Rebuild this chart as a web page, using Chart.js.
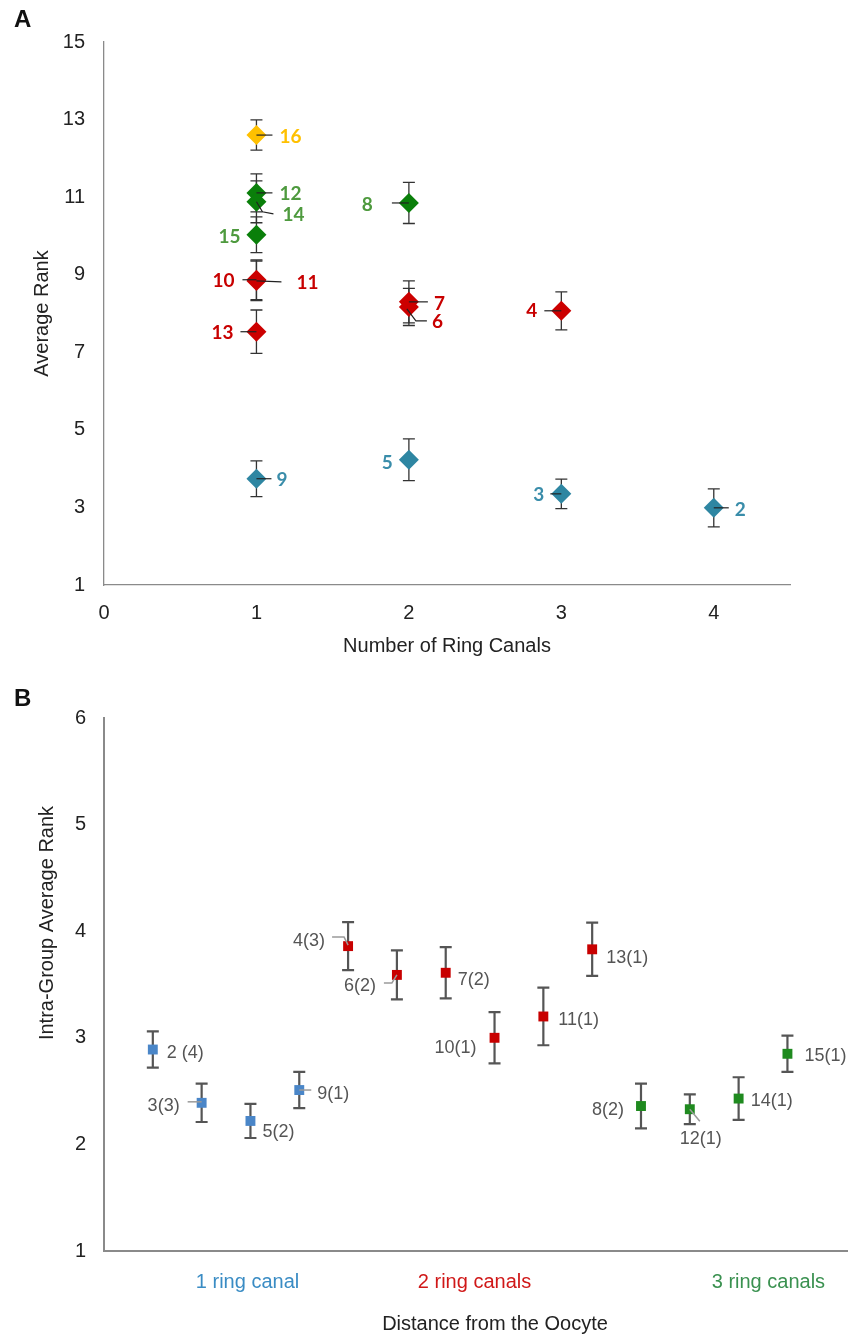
<!DOCTYPE html>
<html>
<head>
<meta charset="utf-8">
<script src="https://cdn.jsdelivr.net/npm/chart.js@4.4.1/dist/chart.umd.min.js"></script>
<style>
  html, body { margin: 0; padding: 0; background: #fff; }
  body { width: 854px; height: 1336px; position: relative; overflow: hidden; font-family: "Liberation Sans", Arial, sans-serif; }
  .panel { position: absolute; left: 0; width: 854px; }
  .letter { position: absolute; left: 14px; font-weight: bold; font-size: 24px; line-height: 24px; color: #111; }
</style>
</head>
<body>
<div class="panel" style="top:0;height:670px"><canvas id="chartA"></canvas></div>
<div class="panel" style="top:670px;height:666px"><canvas id="chartB"></canvas></div>
<div class="letter" style="top:7px">A</div>
<div class="letter" style="top:686px">B</div>
<script>
// ---- panel A: average rank vs number of ring canals
const idsA = ['16', '12', '14', '15', '8', '10', '11', '13', '7', '6', '4', '9', '5', '3', '2'];
const ringCanalsA = [1, 1, 1, 1, 2, 1, 1, 1, 2, 2, 3, 1, 2, 3, 4];
const avgRankA = [12.60, 11.11, 10.88, 10.03, 10.85, 8.87, 8.84, 7.53, 8.30, 8.17, 8.07, 3.74, 4.23, 3.35, 2.99];
const errA = [0.39, 0.49, 0.54, 0.46, 0.53, 0.51, 0.51, 0.56, 0.54, 0.48, 0.49, 0.46, 0.54, 0.38, 0.49];
const groupA = ['yellow', 'green', 'green', 'green', 'green', 'red', 'red', 'red', 'red', 'red', 'red', 'teal', 'teal', 'teal', 'teal'];
const xTicksA = [0, 1, 2, 3, 4];

// ---- panel B: intra-group average rank by distance from the oocyte
const idsB = ['2 (4)', '3(3)', '5(2)', '9(1)', '4(3)', '6(2)', '7(2)', '10(1)', '11(1)', '13(1)', '8(2)', '12(1)', '14(1)', '15(1)'];
const orderB = [1, 2, 3, 4, 5, 6, 7, 8, 9, 10, 11, 12, 13, 14];
const intraRankB = [2.89, 2.39, 2.22, 2.51, 3.86, 3.59, 3.61, 3.00, 3.20, 3.83, 2.36, 2.33, 2.43, 2.85];
const errB = [0.17, 0.18, 0.16, 0.17, 0.225, 0.23, 0.24, 0.24, 0.27, 0.25, 0.21, 0.14, 0.20, 0.17];
const groupB = [1, 1, 1, 1, 2, 2, 2, 2, 2, 2, 3, 3, 3, 3];
const groupNamesB = ['1 ring canal', '2 ring canals', '3 ring canals'];
const groupTickPosB = [2.94, 7.59, 13.61];

Chart.defaults.font.family = '"Liberation Sans", Arial, sans-serif';
Chart.defaults.animation = false;

const colorsA = {
  yellow: { marker: '#FFC000', label: '#FFC000' },
  green: { marker: '#0A7F0A', label: '#4E9A3E' },
  red: { marker: '#CC0000', label: '#C80000' },
  teal: { marker: '#2E86A2', label: '#3A8DAA' }
};
const colorsB = {
  1: { marker: '#4A86C8', tick: '#3A8CC4' },
  2: { marker: '#C80000', tick: '#D01818' },
  3: { marker: '#1F8A1F', tick: '#3A9150' }
};

// label placement relative to the marker (pixels)
const labelPosA = {
  '16': { dx: 23, dy: 2, align: 'left', leader: [[0, 0], [16, 0]] },
  '12': { dx: 23, dy: 1, align: 'left', leader: [[0, 0], [16, 0]] },
  '14': { dx: 26, dy: 13, align: 'left', leader: [[0, 0], [6, 10], [17, 12]] },
  '15': { dx: -16, dy: 2, align: 'right' },
  '8': { dx: -36, dy: 2, align: 'right', leader: [[-17, 0], [0, 0]] },
  '10': { dx: -22, dy: 1, align: 'right', leader: [[-14, 0], [0, 0]] },
  '11': { dx: 40, dy: 2, align: 'left', leader: [[0, 0], [25, 1]] },
  '13': { dx: -23, dy: 1, align: 'right', leader: [[-16, 0], [0, 0]] },
  '7': { dx: 25, dy: 2, align: 'left', leader: [[0, 0], [19, 0]] },
  '6': { dx: 23, dy: 15, align: 'left', leader: [[-2, 2], [7, 14], [18, 14]] },
  '4': { dx: -24, dy: 0, align: 'right', leader: [[-17, 0], [0, 0]] },
  '9': { dx: 20, dy: 1, align: 'left', leader: [[0, 0], [15, 0]] },
  '5': { dx: -16, dy: 3, align: 'right' },
  '3': { dx: -17, dy: 1, align: 'right', leader: [[-11, 0], [0, 0]] },
  '2': { dx: 21, dy: 2, align: 'left', leader: [[0, 0], [15, 0]] }
};
const labelPosB = {
  '2 (4)': { dx: 14, dy: 4, align: 'left' },
  '3(3)': { dx: -22, dy: 3, align: 'right', leader: [[-14, -1], [0, -1]] },
  '5(2)': { dx: 12, dy: 11, align: 'left' },
  '9(1)': { dx: 18, dy: 4, align: 'left', leader: [[0, 0], [12, 0]] },
  '4(3)': { dx: -23, dy: -5, align: 'right', leader: [[-16, -9], [-4, -9], [0, -1]] },
  '6(2)': { dx: -21, dy: 11, align: 'right', leader: [[-13, 8], [-5, 8], [0, 0]] },
  '7(2)': { dx: 12, dy: 7, align: 'left' },
  '10(1)': { dx: -18, dy: 10, align: 'right' },
  '11(1)': { dx: 15, dy: 4, align: 'left' },
  '13(1)': { dx: 14, dy: 9, align: 'left' },
  '8(2)': { dx: -17, dy: 4, align: 'right' },
  '12(1)': { dx: -10, dy: 30, align: 'left', leader: [[0, 0], [10, 12]] },
  '14(1)': { dx: 12, dy: 2, align: 'left' },
  '15(1)': { dx: 17, dy: 2, align: 'left' }
};

// vertical error bars with caps, drawn under the markers
function errorBarPlugin(color, width, cap) {
  return {
    id: 'errorBars',
    beforeDatasetsDraw(chart) {
      const ctx = chart.ctx;
      const yScale = chart.scales.y;
      ctx.save();
      ctx.strokeStyle = color;
      ctx.lineWidth = width;
      chart.data.datasets.forEach((ds, i) => {
        chart.getDatasetMeta(i).data.forEach((pt, j) => {
          const v = ds.data[j].y, e = ds.errors[j];
          const top = yScale.getPixelForValue(v + e);
          const bot = yScale.getPixelForValue(v - e);
          ctx.beginPath();
          ctx.moveTo(pt.x, top); ctx.lineTo(pt.x, bot);
          ctx.moveTo(pt.x - cap, top); ctx.lineTo(pt.x + cap, top);
          ctx.moveTo(pt.x - cap, bot); ctx.lineTo(pt.x + cap, bot);
          ctx.stroke();
        });
      });
      ctx.restore();
    }
  };
}

// point name labels with small leader lines
function labelPlugin(positions, font, leaderColor, leaderWidth) {
  return {
    id: 'pointNames',
    afterDatasetsDraw(chart) {
      const ctx = chart.ctx;
      ctx.save();
      ctx.font = font;
      ctx.textBaseline = 'middle';
      chart.data.datasets.forEach((ds, i) => {
        chart.getDatasetMeta(i).data.forEach((pt, j) => {
          const name = ds.names[j];
          const p = positions[name];
          if (p.leader) {
            ctx.strokeStyle = leaderColor;
            ctx.lineWidth = leaderWidth;
            ctx.beginPath();
            p.leader.forEach((q, k) => {
              if (k === 0) ctx.moveTo(pt.x + q[0], pt.y + q[1]);
              else ctx.lineTo(pt.x + q[0], pt.y + q[1]);
            });
            ctx.stroke();
          }
          ctx.fillStyle = ds.labelColor;
          ctx.textAlign = p.align;
          ctx.fillText(name, pt.x + p.dx, pt.y + p.dy);
        });
      });
      ctx.restore();
    }
  };
}

// ---------- chart A
const datasetsA = Object.keys(colorsA).map(g => {
  const idx = groupA.map((v, i) => v === g ? i : -1).filter(i => i >= 0);
  return {
    data: idx.map(i => ({ x: ringCanalsA[i], y: avgRankA[i] })),
    errors: idx.map(i => errA[i]),
    names: idx.map(i => idsA[i]),
    labelColor: colorsA[g].label,
    showLine: false,
    pointStyle: 'rectRot',
    pointRadius: 10,
    pointBorderWidth: 0,
    pointBackgroundColor: colorsA[g].marker,
    pointBorderColor: colorsA[g].marker
  };
});

new Chart(document.getElementById('chartA'), {
  type: 'scatter',
  data: { datasets: datasetsA },
  options: {
    responsive: true,
    maintainAspectRatio: false,
    layout: { padding: { top: 42, right: 64, bottom: 0, left: 0 } },
    scales: {
      x: {
        type: 'linear',
        min: 0,
        max: 4.5,
        afterBuildTicks: s => { s.ticks = xTicksA.map(v => ({ value: v })); },
        afterFit: s => { s.height = 85; },
        grid: { display: false, drawTicks: false },
        border: { display: true, color: '#8a8a8a', width: 1.3 },
        ticks: { font: { size: 20 }, color: '#222', padding: 16, maxRotation: 0 },
        title: { display: true, text: 'Number of Ring Canals', font: { size: 20 }, color: '#222', padding: { top: 0, bottom: 12 } }
      },
      y: {
        min: 1,
        max: 15,
        afterFit: s => { s.width = 104; },
        grid: { display: false, drawTicks: false },
        border: { display: true, color: '#8a8a8a', width: 1.3 },
        ticks: { stepSize: 2, font: { size: 20 }, color: '#222', padding: 19 },
        title: { display: true, text: 'Average Rank', font: { size: 20 }, color: '#222', padding: { top: 30, bottom: 0 } }
      }
    },
    plugins: { legend: { display: false }, tooltip: { enabled: false } }
  },
  plugins: [errorBarPlugin('#333', 1.3, 6), labelPlugin(labelPosA, 'bold 19px Lato', '#222', 1.2)]
});

// ---------- chart B
const datasetsB = [1, 2, 3].map(g => {
  const idx = groupB.map((v, i) => v === g ? i : -1).filter(i => i >= 0);
  return {
    data: idx.map(i => ({ x: orderB[i], y: intraRankB[i] })),
    errors: idx.map(i => errB[i]),
    names: idx.map(i => idsB[i]),
    labelColor: '#555',
    showLine: false,
    pointStyle: 'rect',
    pointRadius: 7,
    pointBorderWidth: 0,
    pointBackgroundColor: colorsB[g].marker,
    pointBorderColor: colorsB[g].marker
  };
});

const titlesB = {
  id: 'titlesB',
  afterDraw(chart) {
    const ctx = chart.ctx;
    ctx.save();
    ctx.font = '20px "Liberation Sans", Arial, sans-serif';
    ctx.fillStyle = '#222';
    ctx.textAlign = 'center';
    ctx.textBaseline = 'middle';
    ctx.fillText('Distance from the Oocyte', 495, 654);
    ctx.translate(47, 253);
    ctx.rotate(-Math.PI / 2);
    ctx.fillText('Intra-Group Average Rank', 0, 0);
    ctx.restore();
  }
};

new Chart(document.getElementById('chartB'), {
  type: 'scatter',
  data: { datasets: datasetsB },
  options: {
    responsive: true,
    maintainAspectRatio: false,
    layout: { padding: { top: 48, right: 4, bottom: 0, left: 0 } },
    scales: {
      x: {
        type: 'linear',
        min: 0,
        max: 15.22,
        afterBuildTicks: s => { s.ticks = groupTickPosB.map(v => ({ value: v })); },
        afterFit: s => { s.height = 85; },
        grid: { display: false, drawTicks: false },
        border: { display: true, color: '#8a8a8a', width: 2 },
        ticks: {
          autoSkip: false,
          maxRotation: 0,
          font: { size: 20 },
          padding: 19,
          color: c => colorsB[c.index + 1].tick,
          callback: (v, i) => groupNamesB[i]
        }
      },
      y: {
        min: 1,
        max: 6,
        afterFit: s => { s.width = 104; },
        grid: { display: false, drawTicks: false },
        border: { display: true, color: '#8a8a8a', width: 2 },
        ticks: { stepSize: 1, font: { size: 20 }, color: '#222', padding: 18 }
      }
    },
    plugins: { legend: { display: false }, tooltip: { enabled: false } }
  },
  plugins: [errorBarPlugin('#555', 2.2, 6), labelPlugin(labelPosB, '18px "Liberation Sans", Arial, sans-serif', '#9a9a9a', 1.5), titlesB]
});
</script>
</body>
</html>
